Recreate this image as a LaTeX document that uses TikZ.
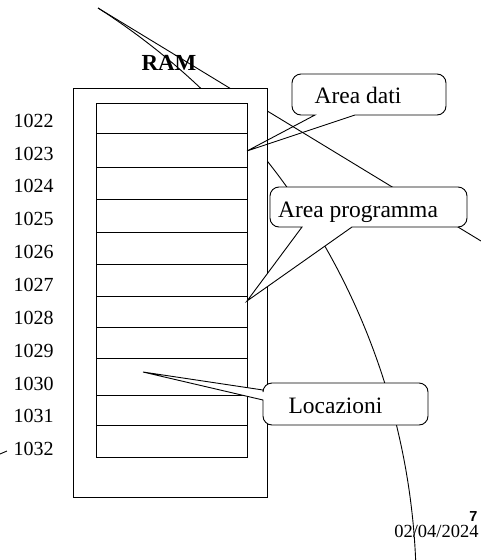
\documentclass[tikz,border=0pt]{standalone}
\usepackage{fontspec}
\setmainfont{Liberation Serif}
\newfontfamily\arialfont{Liberation Sans}
\begin{document}
\begin{tikzpicture}[x=1pt,y=-1pt,line width=0.9pt,
  lbl/.style={anchor=base east,font=\fontsize{20}{24}\selectfont,inner sep=0pt},
  callout/.style={draw,rounded corners=9pt},
  ctext/.style={anchor=base,font=\fontsize{23.5}{28}\selectfont,inner sep=0pt},
  cell/.style={draw}]
\useasboundingbox (0,0) rectangle (481,560);
\clip (0,0) rectangle (481,560);
% background lines
\coordinate (o) at (98,8);
\coordinate (e1) at (481,241);
\coordinate (s1) at (0,454);
\coordinate (s2) at (7,451);
\draw (o) -- (e1);
\draw (o) arc[start angle=-57.4, end angle=0, radius=690];
\draw (s1) -- (s2);
% RAM box
\draw[fill=white] (73,88) rectangle (267,497);
\foreach \a/\b in {103/133,133/167,167/199,199/232,232/264,264/296,296/327,327/358,358/395,395/425,425/457}
  \draw[cell] (96,\a) rectangle (247,\b);
\foreach \i in {0,...,10}{
  \pgfmathtruncatemacro\num{1022+\i}
  \node[lbl] (n\i) at (54,{127.3+32.84*\i}) {\num};
}
\node[font=\bfseries\fontsize{23}{28}\selectfont,anchor=base,inner sep=0pt] (ram) at (169,70.7) {RAM};
% callouts
\draw[callout] (292,95) -- (292,115) [sharp corners] -- (315,115) -- (247,151) -- (355,115) [rounded corners=9pt] -- (446,115) -- (446,74) -- (292,74) -- cycle;
\draw[callout,fill=white] (270,207) -- (270,227) [sharp corners] -- (302,227) -- (247,301) -- (352,227) [rounded corners=9pt] -- (467,227) -- (467,187) -- (270,187) -- cycle;
\draw[callout,fill=white] (345,425) -- (263,425) [sharp corners] -- (263,400) -- (143,372) -- (263,390) [rounded corners=9pt] -- (263,383) -- (428,383) -- (428,425) -- cycle;
\node[ctext] (t1) at (358,103) {Area dati};
\node[ctext] (t2) at (358,217) {Area programma};
\node[ctext] (t3) at (335.5,413) {Locazioni};
% footer
\node[anchor=base east,inner sep=0pt,font=\arialfont\bfseries\fontsize{14.5}{17}\selectfont] (pg) at (478,521.5) {7};
\node[anchor=base east,inner sep=0pt,font=\fontsize{18.5}{22}\selectfont] (date) at (479,537) {02/04/2024};
\end{tikzpicture}
\end{document}
